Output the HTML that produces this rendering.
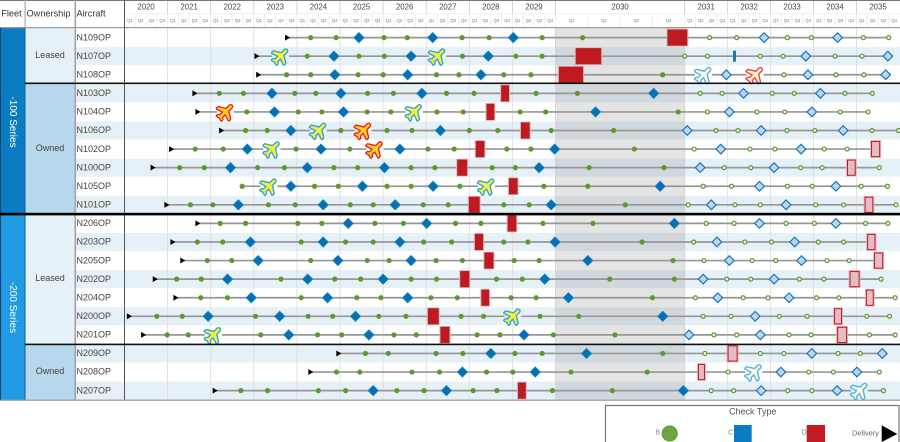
<!DOCTYPE html>
<html lang="en">
<head>
<meta charset="utf-8">
<title>Aircraft maintenance check schedule</title>
<style>
html,body{margin:0;padding:0;background:#fff;}
svg{display:block;font-family:"Liberation Sans",sans-serif;}
</style>
</head>
<body>
<svg id="chart" xmlns="http://www.w3.org/2000/svg" width="900" height="442" viewBox="0 0 900 442">
  <rect x="0" y="0" width="900" height="442" fill="#fff"/>
  <g id="bands"></g>
  <g id="grid"></g>
  <rect x="555.5" y="28" width="129.2" height="372" fill="#787878" fill-opacity="0.2"/>
  <g id="series"></g>
  <g id="header"></g>

  <rect x="0" y="28" width="25" height="186" fill="#0a7dc2"/>
  <rect x="0" y="215" width="25" height="185" fill="#209ae2"/>
  <text transform="translate(12.5 122) rotate(90)" text-anchor="middle" dominant-baseline="central" font-size="10" fill="#fff">-100 Series</text>
  <text transform="translate(12.5 307.5) rotate(90)" text-anchor="middle" dominant-baseline="central" font-size="10" fill="#fff">-200 Series</text>

  <rect x="25" y="28" width="50" height="55" fill="#e6f0f7"/>
  <rect x="25" y="84" width="50" height="130" fill="#b7d7ec"/>
  <rect x="25" y="215" width="50" height="129" fill="#e6f1f8"/>
  <rect x="25" y="345" width="50" height="55" fill="#b7d7ec"/>
  <text x="50" y="55" text-anchor="middle" dominant-baseline="central" font-size="9" fill="#444">Leased</text>
  <text x="50" y="148" text-anchor="middle" dominant-baseline="central" font-size="9" fill="#444">Owned</text>
  <text x="50" y="278" text-anchor="middle" dominant-baseline="central" font-size="9" fill="#444">Leased</text>
  <text x="50" y="371" text-anchor="middle" dominant-baseline="central" font-size="9" fill="#444">Owned</text>

  <text x="11.5" y="13.5" text-anchor="middle" dominant-baseline="central" font-size="9.2" fill="#333">Fleet</text>
  <text x="48.5" y="13.5" text-anchor="middle" dominant-baseline="central" font-size="9.2" fill="#333">Ownership</text>
  <text x="76.5" y="13.5" dominant-baseline="central" font-size="9.2" fill="#333">Aircraft</text>

  <rect x="0" y="0" width="900" height="1" fill="#777"/>
  <rect x="0" y="27" width="900" height="1.2" fill="#999"/>
  <rect x="24.5" y="0" width="1.2" height="28" fill="#aaa"/>
  <rect x="74.5" y="0" width="1.6" height="400" fill="#a3a3a3"/>
  <rect x="124" y="0" width="1" height="400" fill="#555"/>
  <rect x="0" y="28" width="1" height="372" fill="#0b3f66"/>
  <rect x="24.5" y="28" width="1" height="372" fill="#0b5f96"/>

  <rect x="25" y="82.5" width="875" height="1.6" fill="#111"/>
  <rect x="0" y="212.8" width="900" height="2.6" fill="#000"/>
  <rect x="25" y="343.6" width="875" height="1.6" fill="#111"/>
  <rect x="0" y="399.6" width="900" height="1.2" fill="#999"/>

  <g>
    <rect x="605.5" y="405.5" width="293.5" height="38" fill="#fff" stroke="#777" stroke-width="1.2"/>
    <text x="752.7" y="411.5" text-anchor="middle" dominant-baseline="central" font-size="9" fill="#555">Check Type</text>
    <text x="657.7" y="433" text-anchor="middle" dominant-baseline="central" font-size="7" fill="#888">B</text>
    <circle cx="669.7" cy="433.5" r="7.6" fill="#6aa83c" stroke="#4f8f2c" stroke-width="0.8"/>
    <text x="730.7" y="433" text-anchor="middle" dominant-baseline="central" font-size="7" fill="#888">C</text>
    <rect x="734" y="425" width="17.7" height="17" fill="#0a7cc4"/>
    <text x="804" y="433" text-anchor="middle" dominant-baseline="central" font-size="7" fill="#888">D</text>
    <rect x="806.7" y="425" width="18.3" height="17" fill="#c41c24"/>
    <text x="865.5" y="433" text-anchor="middle" dominant-baseline="central" font-size="7.5" fill="#666">Delivery</text>
    <polygon points="881.7,425.3 897.3,434 881.7,442" fill="#000"/>
  </g>
</svg>

<script>
// All dates are years since the start of 2020 (e.g. 3.5 = mid 2023).
const years = [2020,2021,2022,2023,2024,2025,2026,2027,2028,2029,2030,2031,2032,2033,2034,2035];
const quarters = ['Q1','Q2','Q3','Q4'];
const aircraft = ['N109OP','N107OP','N108OP','N103OP','N104OP','N106OP','N102OP','N100OP','N105OP','N101OP','N206OP','N203OP','N205OP','N202OP','N204OP','N200OP','N201OP','N209OP','N208OP','N207OP'];
const delivery = [3.76,3.05,3.09,1.61,1.68,2.23,1.07,0.64,null,0.96,1.68,1.10,1.33,0.69,1.17,0.09,0.42,4.95,4.30,2.08];

const bChecks = [
 [4.32,4.91,6.02,6.56,7.83,8.46,9.69,10.21,11.58,12.21,13.39,13.95,15.16,15.75],
 [4.24,5.44,6.03,7.84,9.08,9.69,11.0,11.53,12.76,13.29,14.50,15.13],
 [3.76,4.32,5.42,6.00,7.24,7.76,8.80,9.43,10.83,13.31,14.52,15.17],
 [2.20,2.76,3.95,4.44,5.64,6.24,7.47,8.11,9.55,10.17,11.36,11.87,13.04,13.55,14.73,15.37],
 [2.84,4.03,4.58,5.63,6.18,7.25,7.86,9.18,9.77,10.95,11.53,12.68,13.33,14.62,15.27],
 [2.81,3.31,5.02,6.09,6.67,8.00,8.66,9.90,10.45,11.73,12.24,13.38,14.03,15.36,15.98],
 [1.64,2.29,3.98,5.23,7.04,7.65,8.87,9.43,10.61,11.22,12.52,13.10,14.25,14.78],
 [1.28,1.85,3.09,3.71,4.86,5.41,6.65,7.20,8.53,9.07,10.26,10.84,11.92,12.54,13.70,14.20,15.53],
 [2.73,4.41,4.96,6.09,6.65,7.78,9.73,10.25,11.43,12.09,13.39,13.97,15.11,15.72],
 [1.53,2.05,3.34,3.96,5.24,5.77,6.93,7.51,8.80,9.39,10.54,11.08,12.17,12.76,14.05,14.70,15.92],
 [2.22,2.81,4.02,4.58,5.81,6.47,7.68,8.27,9.71,10.29,11.50,12.15,13.36,14.02,15.21,15.73],
 [1.69,2.28,4.10,5.13,5.77,6.94,7.59,8.80,9.36,10.67,11.21,12.40,13.02,14.11,14.70],
 [1.92,2.49,4.32,5.63,6.14,7.23,7.84,9.04,9.62,10.91,11.45,12.57,13.12,14.31,14.83],
 [1.21,1.78,3.63,4.88,5.48,6.65,7.24,8.63,9.23,10.42,10.92,11.98,12.54,13.67,14.24,15.57],
 [1.77,2.39,4.10,5.39,5.95,7.11,7.72,8.97,9.55,10.75,11.25,12.36,12.94,14.07,14.59,15.90],
 [0.75,1.34,3.04,4.26,4.83,5.90,6.53,7.81,8.33,9.64,10.18,11.43,12.08,13.20,13.85,15.24,15.77],
 [0.99,1.48,3.16,4.48,5.04,6.25,6.77,8.18,8.71,9.95,10.46,11.68,12.21,13.43,13.94,15.30,15.90],
 [5.59,6.12,7.23,7.85,9.06,9.69,10.83,11.47,12.76,13.31,14.57,15.09],
 [4.92,5.46,6.67,7.31,8.40,9.01,10.12,10.71,12.01,13.89,14.46,15.53],
 [2.70,3.32,4.50,5.13,6.32,6.95,8.09,8.64,9.93,10.44,11.62,12.14,13.40,13.96,15.63]
];

const cChecks = [
 [5.44,7.15,9.02,12.85,14.56],
 [4.86,6.65,8.44,13.82,15.73],
 [4.88,6.57,8.27,11.97,13.87,15.68],
 [3.42,5.02,6.90,10.76,12.37,14.16],
 [3.48,5.08,10.31,12.04,13.96],
 [3.86,7.33,11.06,12.78,14.69],
 [2.85,4.56,6.39,9.98,11.84,13.71],
 [2.46,4.24,6.03,9.62,11.36,13.08],
 [3.86,5.52,7.16,10.81,12.74,14.52],
 [2.64,4.61,6.28,9.90,11.62,13.36],
 [5.19,7.01,10.92,12.74,14.52],
 [2.92,4.61,6.39,9.99,11.75,13.56],
 [3.10,4.95,6.65,10.25,12.04,13.72],
 [2.39,4.25,6.00,9.75,11.43,13.08],
 [2.94,4.71,6.57,10.10,11.77,13.43],
 [1.94,3.60,5.36,10.83,12.64],
 [3.81,5.67,9.27,11.10,12.76],
 [8.50,10.24,13.96,15.60],
 [7.84,9.53,13.24,15.01],
 [5.77,7.47,10.99,12.78,14.55]
];

const cBarChecks = [[],[12.16],[],[],[],[],[],[],[],[],[],[],[],[],[],[],[],[],[],[]];

const dChecks = [
 [[10.87,11.05]],
 [[10.16,10.35]],
 [[10.03,10.21]],
 [[8.75,8.91]],
 [[8.41,8.57]],
 [[9.21,9.39]],
 [[8.16,8.34],[15.35,15.54]],
 [[7.73,7.94],[14.79,14.97]],
 [[8.93,9.11]],
 [[8.00,8.23],[15.20,15.38]],
 [[8.90,9.08]],
 [[8.14,8.31],[15.26,15.43]],
 [[8.36,8.55],[15.42,15.61]],
 [[7.80,7.99],[14.85,15.06]],
 [[8.29,8.45],[15.23,15.39]],
 [[7.05,7.28],[14.49,14.65]],
 [[7.34,7.53],[14.56,14.77]],
 [[12.01,12.22]],
 [[11.32,11.46]],
 [[9.14,9.30]]
];

const bluePlanes = [
 [],[3.62,7.26],[11.44],[],[6.72],[4.50],[3.42],[],[3.35,8.40],[],
 [],[],[],[],[],[9.01],[2.06],[],[12.61],[15.07]
];
const redPlanes = [
 [],[],[12.64],[],[2.34],[5.54],[5.81],[],[],[],
 [],[],[],[],[],[],[],[],[],[]
];

const NS = 'http://www.w3.org/2000/svg';
const PLANE = 'M21 16v-2l-8-5V3.5c0-.83-.67-1.5-1.5-1.5S10 2.67 10 3.5V9l-8 5v2l8-2.5V19l-2 1.5V22l3.5-1 3.5 1v-1.5L13 19v-5.5l8 2.5z';
const NOW = 11;

function timeX(t) {
  if (t < 10) return 124.5 + 43.1 * t;
  if (t < 11) return 555.5 + 129.2 * (t - 10);
  return 684.7 + 42.95 * (t - 11);
}
function rowY(i) {
  return 37.6 + 18.58 * i;
}
function make(parent, tag, attrs, text) {
  const node = document.createElementNS(NS, tag);
  for (const k in attrs) node.setAttribute(k, attrs[k]);
  if (text !== undefined) node.textContent = text;
  parent.appendChild(node);
  return node;
}

const bandsG = document.getElementById('bands');
const gridG = document.getElementById('grid');
const seriesG = document.getElementById('series');
const headerG = document.getElementById('header');

function isBand(i) {
  return i % 2 === 1;
}

aircraft.forEach(function (name, i) {
  if (isBand(i)) {
    const band = make(bandsG, 'rect', {x: 76, y: rowY(i) - 9, width: 824, height: 18, fill: '#e6f0f7'});
    
    
  }
});

years.forEach(function (yr, i) {
  const x0 = timeX(i);
  const x1 = i === years.length - 1 ? 899.5 : timeX(i + 1);
  if (i > 0) {
    const gl = make(gridG, 'line', {x1: x0, x2: x0, y1: 28, y2: 400, stroke: '#dcdfe2', 'stroke-width': 0.9});
    
    
    const hl = make(headerG, 'line', {x1: x0, x2: x0, y1: 0, y2: 14, stroke: '#c8c8c8', 'stroke-width': 0.8});
    
    
  }
  const yl = make(headerG, 'text', {x: (x0 + x1) / 2, y: 7, 'text-anchor': 'middle', 'dominant-baseline': 'central', 'font-size': 7.8, fill: '#444'}, String(yr));
  
  
  quarters.forEach(function (q, k) {
    const qx = x0 + (x1 - x0) * k / 4;
    const qw = (x1 - x0) / 4;
    const sep = make(headerG, 'line', {x1: qx, x2: qx, y1: 14, y2: 26.5, stroke: '#eeeeee', 'stroke-width': 1});
    
    
    const ql = make(headerG, 'text', {x: qx + qw / 2, y: 20.3, 'text-anchor': 'middle', 'dominant-baseline': 'central', 'font-size': 4.2, fill: '#777'}, q);
    
    
  });
});
const headerRule = make(headerG, 'rect', {x: 125, y: 13.2, width: 775, height: 1, fill: '#eeeeee'});



function drawPlane(group, t, y, i, red) {
  const x = timeX(t);
  const future = t >= NOW;
  const inShade = x > 555.5 && x < 684.7;
  if (!inShade) {
    const mask = make(group, 'rect', {x: x - 8.5, y: y - 7.5, width: 17, height: 15, fill: isBand(i) ? '#e6f0f7' : '#ffffff'});
    
    
  }
  const fill = future ? (red ? '#fff6cc' : '#fdfbdc') : (red ? '#ffd22e' : '#f6f03c');
  const stroke = red ? (future ? '#f23a3a' : '#f01a14') : (future ? '#4cb0ea' : '#2e9fe2');
  const p = make(group, 'path', {
    d: PLANE,
    transform: 'translate(' + x + ' ' + y + ') rotate(45) scale(0.88) translate(-11.5 -12)',
    fill: fill, stroke: stroke, 'stroke-width': 3, 'stroke-linejoin': 'round', 'paint-order': 'stroke'
  });
  
  
}

aircraft.forEach(function (name, i) {
  const y = rowY(i);
  const g = make(seriesG, 'g', {});
  
  

  const label = make(g, 'text', {x: 76.5, y: y - 0.3, 'dominant-baseline': 'central', 'font-size': 9, fill: '#444'}, name);
  
  

  const all = bChecks[i].concat(cChecks[i], cBarChecks[i], bluePlanes[i], redPlanes[i]);
  dChecks[i].forEach(function (d) { all.push(d[0], d[1]); });
  if (delivery[i] !== null) all.push(delivery[i]);
  const line = make(g, 'line', {x1: timeX(Math.min.apply(null, all)), x2: timeX(Math.max.apply(null, all)), y1: y, y2: y, stroke: '#979797', 'stroke-width': 1.7});
  
  

  bluePlanes[i].forEach(function (t) { drawPlane(g, t, y, i, false); });
  redPlanes[i].forEach(function (t) { drawPlane(g, t, y, i, true); });

  if (delivery[i] !== null) {
    const dx = timeX(delivery[i]);
    const tri = make(g, 'polygon', {points: (dx - 1.5) + ',' + (y - 3) + ' ' + (dx + 3.5) + ',' + y + ' ' + (dx - 1.5) + ',' + (y + 3), fill: '#000'});
    
    
  }

  bChecks[i].forEach(function (t) {
    const future = t >= NOW;
    const c = make(g, 'circle', future
      ? {cx: timeX(t), cy: y, r: 2, fill: '#eaf4e2', stroke: '#5c9a2e', 'stroke-width': 1.2}
      : {cx: timeX(t), cy: y, r: 2.6, fill: '#5c9a2e'});
    
    
  });

  cChecks[i].forEach(function (t) {
    const future = t >= NOW;
    const x = timeX(t);
    const r = future ? 4.8 : 5.3;
    const c = make(g, 'polygon', {
      points: x + ',' + (y - r) + ' ' + (x + r) + ',' + y + ' ' + x + ',' + (y + r) + ' ' + (x - r) + ',' + y,
      fill: future ? '#b9d8ee' : '#0670b4',
      stroke: future ? '#1f74b6' : '#2f8fcf',
      'stroke-width': future ? 1.2 : 0.6
    });
    
    
  });

  cBarChecks[i].forEach(function (t) {
    const c = make(g, 'rect', {x: timeX(t) - 1.5, y: y - 5.5, width: 3, height: 11, fill: '#1f74b6'});
    
    
  });

  dChecks[i].forEach(function (d) {
    const future = d[0] >= NOW;
    const x0 = timeX(d[0]);
    const x1 = timeX(d[1]);
    const halo = make(g, 'rect', {x: x0 - 1, y: y - 8.4, width: x1 - x0 + 2, height: 16.8, fill: 'none', stroke: '#e7b4b8', 'stroke-width': 1});
    
    
    const c = make(g, 'rect', {
      x: x0, y: y - 7.6, width: x1 - x0, height: 15.2,
      fill: future ? '#e5bcc4' : '#c01a20',
      stroke: future ? '#b81c28' : '#a8242a',
      'stroke-width': 1
    });
    
    
  });
});
</script>
</body>
</html>
